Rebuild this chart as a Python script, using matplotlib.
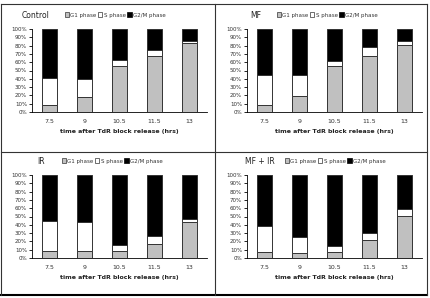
import matplotlib.pyplot as plt
from matplotlib.lines import Line2D
from matplotlib.patches import Patch
import numpy as np

times = ["7.5", "9", "10.5", "11.5", "13"]
titles = ["Control", "MF", "IR", "MF + IR"]

g1 = [
    [9, 18, 55, 68, 83],
    [9, 19, 55, 68, 81],
    [8, 8, 8, 17, 43],
    [7, 6, 7, 22, 51],
]
s_phase = [
    [32, 22, 8, 7, 3],
    [36, 25, 6, 10, 4],
    [37, 35, 8, 10, 4],
    [32, 19, 7, 8, 8],
]

W, H = 430, 298
fig = plt.figure(figsize=(W / 100, H / 100), dpi=100)
fig.patch.set_facecolor("white")


def px(x0, y0, x1, y1):
    # pixel box -> figure fraction [left, bottom, width, height]
    return [x0 / W, 1 - y1 / H, (x1 - x0) / W, (y1 - y0) / H]


# panel offsets (x, y), title x position, legend centre x
panels = [(0, 0, 22, 115), (215, 0, 35, 112), (0, 149, 37, 112), (215, 149, 30, 120)]

for k, (ox, oy, tx, lx) in enumerate(panels):
    ax = fig.add_axes(px(ox + 32, oy + 29 if oy == 0 else oy + 26,
                         ox + 207, oy + 112 if oy == 0 else oy + 109))
    x = np.arange(len(times))
    g = np.array(g1[k])
    s = np.array(s_phase[k])
    g2m = 100 - g - s
    kw = dict(width=0.43, edgecolor="#333333", linewidth=0.7)
    ax.bar(x, g, color="#c0c0c0", **kw)
    ax.bar(x, s, bottom=g, color="white", **kw)
    ax.bar(x, g2m, bottom=g + s, color="black", **kw)
    ax.set_xlim(-0.5, len(times) - 0.5)
    ax.set_ylim(0, 100)
    ax.set_yticks(range(0, 101, 10))
    ax.set_yticklabels(["%d%%" % v for v in range(0, 101, 10)])
    ax.set_xticks(x)
    ax.set_xticklabels(times)
    ax.tick_params(axis="x", length=0, labelsize=4.5, pad=5, labelcolor="#333333")
    ax.tick_params(axis="y", length=2, width=0.6, labelsize=4, pad=1.5, labelcolor="#333333")
    for sp in ["top", "right"]:
        ax.spines[sp].set_visible(False)
    ax.spines["left"].set_linewidth(0.6)
    ax.spines["bottom"].set_linewidth(0.6)
    ax.set_xlabel("time after TdR block release (hrs)", fontsize=4.5,
                  fontweight="bold", labelpad=4, color="#222222")

    ty = (oy + 15 if oy == 0 else oy + 12)
    fig.text((ox + tx) / W, 1 - ty / H, titles[k], fontsize=5.5,
             va="center", ha="left", color="#222222")
    handles = [Patch(facecolor="#c0c0c0", edgecolor="#333333", lw=0.5),
               Patch(facecolor="white", edgecolor="#333333", lw=0.5),
               Patch(facecolor="black", edgecolor="black", lw=0.5)]
    fig.legend(handles, ["G1 phase", "S phase", "G2/M phase"],
               loc="center", bbox_to_anchor=((ox + lx) / W, 1 - ty / H),
               ncol=3, fontsize=4, frameon=False, handlelength=0.8,
               handleheight=0.8, handletextpad=0.2, columnspacing=0.3,
               borderpad=0, labelcolor="#333333")

# panel frame lines
lc = "#333333"
fig.add_artist(Line2D([1 / W, 427 / W], [1 - 4 / H, 1 - 4 / H], color=lc, lw=0.8))
fig.add_artist(Line2D([1 / W, 427 / W], [1 - 295 / H, 1 - 295 / H], color="black", lw=1.5))
fig.add_artist(Line2D([1 / W, 1 / W], [1 - 4 / H, 1 - 295 / H], color=lc, lw=0.8))
fig.add_artist(Line2D([427 / W, 427 / W], [1 - 4 / H, 1 - 295 / H], color=lc, lw=0.8))
fig.add_artist(Line2D([215 / W, 215 / W], [1 - 4 / H, 1 - 295 / H], color=lc, lw=0.8))
fig.add_artist(Line2D([1 / W, 427 / W], [1 - 152 / H, 1 - 152 / H], color=lc, lw=0.8))

fig.savefig("out.png", dpi=100)
